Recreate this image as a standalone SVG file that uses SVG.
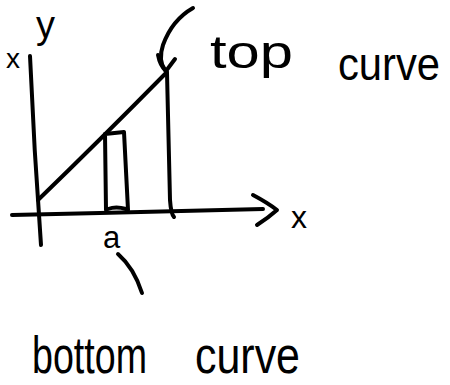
<svg xmlns="http://www.w3.org/2000/svg" width="450" height="385" viewBox="0 0 450 385">
<style>
.s{fill:none;stroke:#000;stroke-width:4;stroke-linecap:round;stroke-linejoin:round}
.t{font-family:"Liberation Sans","DejaVu Sans",sans-serif;fill:#000}
</style>
<rect width="450" height="385" fill="#fff"/>
<g id="axes">
<path class="s" d="M30,56 Q34,150 41,245"/>
<path class="s" d="M12,215 L100,213 L263,209"/>
<path class="s" d="M253,195 Q268,203 277,210 Q268,218 257,225"/>
<text class="t" x="291" y="228" font-size="32">x</text>
<text class="t" x="36" y="38" font-size="38">y</text>
<text class="t" x="6" y="68" font-size="28">x</text>
</g>
<g id="curve">
<path class="s" d="M38,200 Q100,140 167,72"/>
<path class="s" d="M167,73 L170,200 Q171,214 174,217"/>
</g>
<g id="strip">
<path class="s" d="M106,210 L105,134 L124,132 L128,210"/>
<path class="s" d="M108,209 Q116,206 126,209"/>
<text class="t" x="103" y="248" font-size="31">a</text>
</g>
<g id="connectors">
<path class="s" d="M193,8 Q172,20 163,45 Q158,60 165,70"/>
<path class="s" d="M158,55 Q160,66 166,71 L175,59"/>
<path class="s" d="M118,254 Q134,268 142,293"/>
</g>
<g id="top-label">
<text class="t" x="210" y="68" font-size="46" textLength="83" lengthAdjust="spacingAndGlyphs">top</text>
<text class="t" x="338" y="80" font-size="46" textLength="102" lengthAdjust="spacingAndGlyphs">curve</text>
</g>
<g id="bottom-label">
<text class="t" x="32" y="373" font-size="52" textLength="115" lengthAdjust="spacingAndGlyphs">bottom</text>
<text class="t" x="195" y="373" font-size="52" textLength="105" lengthAdjust="spacingAndGlyphs">curve</text>
</g>
</svg>
